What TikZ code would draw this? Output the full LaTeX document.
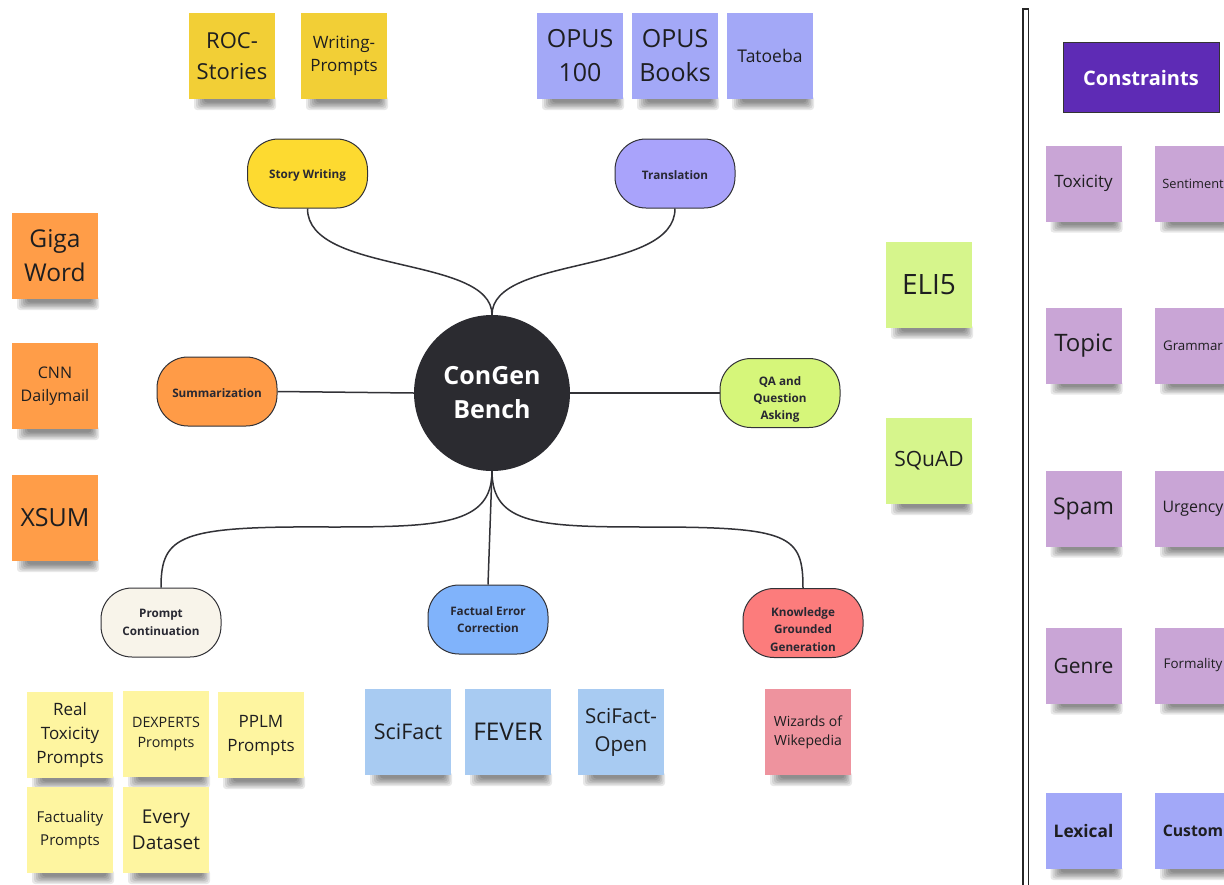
\documentclass[tikz,border=0pt]{standalone}
\usepackage{fontspec}
\setmainfont{Open Sans}
\usetikzlibrary{calc}
\definecolor{stxt}{RGB}{30,30,32}
\definecolor{pilltxt}{RGB}{40,40,50}
\definecolor{lineclr}{RGB}{50,50,55}
\definecolor{cyellow}{RGB}{242,207,54}
\definecolor{copus}{RGB}{163,168,247}
\definecolor{corange}{RGB}{255,157,72}
\definecolor{cgreen}{RGB}{214,245,140}
\definecolor{clyellow}{RGB}{254,245,160}
\definecolor{clblue}{RGB}{168,203,242}
\definecolor{cpink}{RGB}{238,147,158}
\definecolor{clilac}{RGB}{201,165,214}
\definecolor{clex}{RGB}{162,168,248}
\definecolor{cpurple}{RGB}{94,43,181}
\definecolor{pyellow}{RGB}{253,218,48}
\definecolor{pviolet}{RGB}{169,163,251}
\definecolor{porange}{RGB}{255,155,71}
\definecolor{pgreen}{RGB}{214,246,122}
\definecolor{pcream}{RGB}{248,244,234}
\definecolor{pblue}{RGB}{128,179,251}
\definecolor{pred}{RGB}{252,124,124}
\definecolor{cdark}{RGB}{43,43,48}
\tikzset{
  sticky/.style={rectangle, inner sep=0pt, align=center, text=stxt},
  pill/.style={draw=lineclr, line width=1pt, rounded corners=31pt, minimum width=120pt,
    minimum height=69pt, align=center, inner sep=0pt, text=pilltxt,
    font=\fontsize{11.7}{17.3}\selectfont\bfseries},
  conn/.style={draw=lineclr, line width=1.5pt},
  shd/.style={black, opacity=.09, rounded corners=3pt},
}
\newcommand{\lowr}{\rule{0pt}{22pt}}
% #1 name #2 x #3 y #4 size #5 colour #6 font size #7 skip #8 text
\newcommand{\stk}[8]{%
  \foreach \i in {0,1,2,3,4,5}{%
    \fill[shd] ({#2-#4/2+5+2*\i},{#3+#4/2-3}) rectangle ({#2+#4/2+1-1.5*\i},{#3+#4/2+11-1.5*\i});
  }
  \node[sticky, minimum width=#4, minimum height=#4, fill=#5, font=\fontsize{#6}{#7}\selectfont] (#1) at (#2,#3) {#8};
}
\begin{document}
\begin{tikzpicture}[x=1pt,y=-1pt]
\useasboundingbox (0,0) rectangle (1224,884);
\fill[white] (0,0) rectangle (1224,884);

% top stickies
\stk{roc}{232}{56}{86}{cyellow}{22}{31}{ROC-\\Stories}
\stk{wp}{344}{56}{86}{cyellow}{17}{23}{Writing-\\Prompts}
\stk{opus}{580}{56}{86}{copus}{25}{34}{OPUS\\100}
\stk{opusb}{675}{56}{86}{copus}{25}{34}{OPUS\\Books}
\stk{tat}{770}{56}{86}{copus}{17.5}{24}{Tatoeba}
% left stickies
\stk{giga}{55}{256}{86}{corange}{24.5}{34}{Giga\\Word}
\stk{cnn}{55}{386}{86}{corange}{16}{23}{CNN\\Dailymail}
\stk{xsum}{55}{518}{86}{corange}{25}{34}{XSUM}
% right stickies
\stk{eli}{929}{285}{86}{cgreen}{28}{36}{ELI5}
\stk{squad}{929}{461}{86}{cgreen}{21}{28}{SQuAD}
% bottom stickies
\stk{rtp}{70}{735}{86}{clyellow}{17}{24}{Real\\Toxicity\\Prompts}
\stk{dex}{166}{734}{86}{clyellow}{14.3}{20}{DEXPERTS\\Prompts}
\stk{pplm}{261}{735}{86}{clyellow}{17}{24}{PPLM\\Prompts}
\stk{fact}{70}{830}{86}{clyellow}{15}{23}{Factuality\\Prompts}
\stk{every}{166}{830}{86}{clyellow}{19}{26}{Every\\Dataset}
\stk{scifact}{408}{732}{86}{clblue}{21.5}{28}{SciFact}
\stk{fever}{508}{732}{86}{clblue}{24.4}{32}{FEVER}
\stk{sfo}{621}{732}{86}{clblue}{20.5}{28}{SciFact-\\Open}
\stk{wow}{808}{732}{86}{cpink}{14}{19}{Wizards of\\Wikepedia}

% constraints panel
\draw[draw=black!85, line width=1.1pt, fill=white] (1023,895) -- (1023,9) -- (1028.5,9) -- (1028.5,895);
\node[draw=black!80, line width=1pt, fill=cpurple, minimum width=156pt, minimum height=70pt,
  inner sep=0pt, text=white, font=\fontsize{20}{25}\selectfont\bfseries] (cons) at (1141,77.5) {Constraints};
\stk{tox}{1083.5}{183.5}{76}{clilac}{17}{22}{Toxicity}
\stk{sent}{1193}{183.5}{76}{clilac}{12.8}{17}{Sentiment}
\stk{topic}{1083.5}{345.5}{76}{clilac}{24}{30}{Topic}
\stk{gram}{1193}{345.5}{76}{clilac}{13.3}{17}{Grammar}
\stk{spam}{1083.5}{508.5}{76}{clilac}{23}{30}{Spam}
\stk{urg}{1193}{508.5}{76}{clilac}{15.9}{20}{Urgency}
\stk{genre}{1083.5}{665.5}{76}{clilac}{21}{28}{Genre}
\stk{form}{1193}{665.5}{76}{clilac}{13.4}{17}{Formality}
\stk{lex}{1083.5}{831}{76}{clex}{17.3}{22}{\bfseries Lexical}
\stk{cust}{1193}{831}{76}{clex}{15.8}{20}{\bfseries Custom}

% centre and tasks
\node[circle, fill=cdark, minimum size=156pt, inner sep=0pt, align=center, text=white,
  font=\fontsize{25}{34}\selectfont\bfseries] (cb) at (492,393) {ConGen\\Bench};
\node[pill, fill=pyellow] (sw) at (307.5,173.5) {\rule{0pt}{12pt}Story Writing};
\node[pill, fill=pviolet] (tr) at (675,173.5) {\rule{0pt}{12pt}Translation};
\node[pill, fill=porange] (sum) at (217,391.5) {\rule{0pt}{12pt}Summarization};
\node[pill, fill=pgreen] (qa) at (780,393) {\lowr QA and\\Question\\Asking};
\node[pill, fill=pcream] (pc) at (161,622.5) {Prompt\\Continuation};
\node[pill, fill=pblue] (fec) at (488,619.5) {Factual Error\\Correction};
\node[pill, fill=pred] (kgg) at (803,623) {\lowr Knowledge\\Grounded\\Generation};

% connectors
\draw[conn] (sw.south) .. controls (307.5,275) and (492,255) .. (cb.north);
\draw[conn] (tr.south) .. controls (675,275) and (492,255) .. (cb.north);
\draw[conn] (sum.east) -- (cb.west);
\draw[conn] (cb.east) -- (qa.west);
\draw[conn] (cb.south) .. controls (492,525) and (440,527) .. (330,527)
   .. controls (180,526) and (161,535) .. (pc.north);
\draw[conn] (cb.south) -- (fec.north);
\draw[conn] (cb.south) .. controls (492,525) and (540,527) .. (650,527)
   .. controls (790,527) and (803,535) .. (kgg.north);
\end{tikzpicture}
\end{document}
